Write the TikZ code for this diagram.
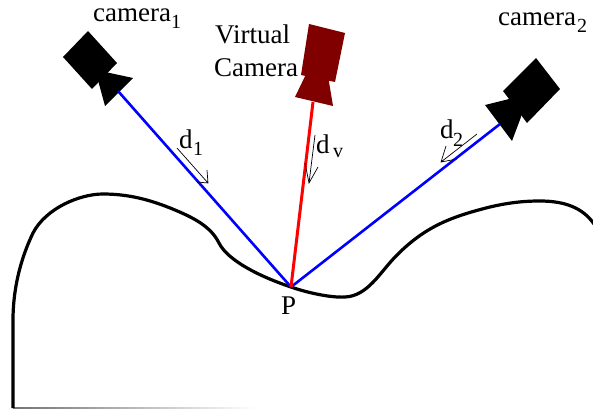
\documentclass[tikz,border=0pt]{standalone}
\usepackage{fontspec}
\setmainfont{Liberation Serif}
\definecolor{vcam}{RGB}{128,0,0}
\tikzset{
 lbl/.style={inner sep=0pt,anchor=base west,font=\fontsize{27}{27}\selectfont},
 sub/.style={inner sep=0pt,anchor=base west,font=\fontsize{20}{20}\selectfont},
 ray/.style={line width=2.6pt},
 dirline/.style={line width=0.7pt,black},
 surface/.style={line width=3.2pt,line cap=butt,line join=round}
}
\begin{document}
\begin{tikzpicture}[x=1pt,y=-1pt]
\useasboundingbox (0,0) rectangle (593,409);
\clip (0,0) rectangle (593,409);
% surface
\shade[left color=black!55,right color=white] (13,407.3) rectangle (256,408.8);
\draw[surface] (13,408) -- (13,320)
 .. controls (13,290) and (20,260) .. (33,233)
 .. controls (46,208) and (80,194) .. (103,194)
 .. controls (128,194) and (150,199.5) .. (175,210)
 .. controls (195,218.4) and (211,227) .. (219,243)
 .. controls (228,261) and (261,277) .. (291,287)
 .. controls (305,292) and (330,298) .. (345,297)
 .. controls (368,296) and (380,272) .. (397,255)
 .. controls (425,227) and (450,217) .. (490,207)
 .. controls (507,203) and (522,201) .. (540,201)
 .. controls (565,201) and (583,208) .. (594,224);
% cameras
\fill[black] (88,31) -- (117,63) -- (92,89) -- (63,57) -- cycle;
\fill[black] (96,70) -- (133,78) -- (105,106) -- (99,84) -- cycle;
\fill[vcam] (309,24) -- (345,33) -- (335,82) -- (301,75) -- cycle;
\fill[vcam] (308,70) -- (327,70) -- (333,106) -- (295,97) -- cycle;
\fill[black] (536,58) -- (560,89) -- (527,123) -- (503,91) -- cycle;
\fill[black] (485,105) -- (525,95) -- (521,117) -- (512,141) -- cycle;
% points
\coordinate (P) at (291,287);
\coordinate (c1) at (118,91);
\coordinate (vc) at (313,102);
\coordinate (c2) at (500,124);
\draw[ray,blue] (P) -- (c1);
\draw[ray,blue] (P) -- (c2);
\draw[ray,red,line width=3pt] (P) -- (vc);
% direction arrows
\coordinate (d1a) at (177,148); \coordinate (d1b) at (208,183);
\coordinate (d1u) at (207,170); \coordinate (d1w) at (197,182);
\draw[dirline] (d1a) -- (d1b) (d1u) -- (d1b) -- (d1w);
\coordinate (dva) at (315,135); \coordinate (dvb) at (309,183);
\coordinate (dvu) at (305,163); \coordinate (dvw) at (318,167);
\draw[dirline] (dva) -- (dvb) (dvu) -- (dvb) -- (dvw);
\coordinate (d2a) at (477,134); \coordinate (d2b) at (441,162);
\coordinate (d2u) at (446,146); \coordinate (d2w) at (457,159);
\draw[dirline] (d2a) -- (d2b) (d2u) -- (d2b) -- (d2w);
% labels
\node[lbl] (t1) at (93,22) {camera};
\node[sub] (t1s) at (171,29) {1};
\node[lbl] (t2) at (498,26) {camera};
\node[sub] (t2s) at (577,33) {2};
\node[lbl] (v1) at (215,44) {Virtual};
\node[lbl] (v2) at (214,77) {Camera};
\node[lbl] (l1) at (179,148) {d};
\node[sub] (l1s) at (193,155) {1};
\node[lbl] (l2) at (440,138) {d};
\node[sub] (l2s) at (453,146) {2};
\node[lbl] (lv) at (316,153) {d};
\node[sub] (lvs) at (333,157) {v};
\node[lbl] (lP) at (281,314) {P};
\end{tikzpicture}
\end{document}
